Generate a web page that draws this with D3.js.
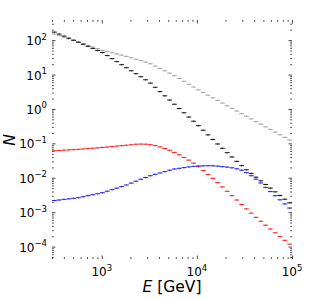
<!DOCTYPE html>
<html><head><meta charset="utf-8">
<script src="https://cdn.jsdelivr.net/npm/d3@7"></script>
<style>body{margin:0;background:#fff}svg{display:block}text{font-family:"DejaVu Sans",sans-serif}</style>
</head><body>
<svg id="c" width="317" height="300"></svg>
<script>
// bins: 50 log-spaced bins from 300 GeV to 1e5 GeV
const eMin = 300, eMax = 1e5, nBins = 50;
const seriesBlack = [171,150,131,114,99.5,86.9,75.9,66.1,57.5,50.1,43.5,35.6,29.0,23.7,19.3,15.8,12.9,10.6,8.65,7.05,5.64,4.26,3.19,2.41,1.81,1.37,1.03,0.774,0.582,0.440,0.327,0.241,0.177,0.130,0.0959,0.0719,0.0537,0.0403,0.0300,0.0225,0.0171,0.0134,0.0104,0.00818,0.00638,0.00500,0.00390,0.00305,0.00238,0.00187];
const seriesGray = [151,136,121,109,97.5,87.5,78.3,70.3,63.0,56.5,50.7,46.8,43.1,39.7,36.6,33.7,30.6,27.9,25.4,23.0,20.6,17.6,15.0,12.9,11.0,9.31,7.67,6.35,5.22,4.33,3.58,3.01,2.52,2.11,1.77,1.48,1.24,1.04,0.871,0.731,0.612,0.514,0.430,0.361,0.302,0.254,0.212,0.178,0.149,0.125];
const seriesRed = [0.0608,0.0621,0.0632,0.0646,0.0659,0.0671,0.0689,0.0705,0.0723,0.0741,0.0762,0.0783,0.0807,0.0832,0.0855,0.0881,0.0912,0.0944,0.0953,0.0945,0.0915,0.0860,0.0790,0.0710,0.0630,0.0545,0.0465,0.0390,0.0325,0.0265,0.0210,0.0162,0.0125,0.00960,0.00725,0.00545,0.00405,0.00302,0.00226,0.00167,0.00125,0.000935,0.000710,0.000545,0.000418,0.000325,0.000252,0.000196,0.000152,0.000118];
const seriesBlue = [0.00218,0.00226,0.00236,0.00244,0.00254,0.00264,0.00282,0.00302,0.00322,0.00344,0.00368,0.00407,0.00452,0.00500,0.00555,0.00617,0.00700,0.00794,0.00906,0.0102,0.0115,0.0126,0.0138,0.0151,0.0166,0.0180,0.0188,0.0197,0.0207,0.0215,0.0220,0.0222,0.0224,0.0223,0.0218,0.0211,0.0204,0.0195,0.0182,0.0166,0.0141,0.0115,0.00912,0.00708,0.00525,0.00398,0.00302,0.00229,0.00174,0.00132];
const xMajor = [1e3, 1e4, 1e5];
const xMajorExp = ["3", "4", "5"];
const yMajor = [1e-4, 1e-3, 1e-2, 1e-1, 1, 10, 100];
const yMajorExp = ["−4", "−3", "−2", "−1", "0", "1", "2"];
const yDomain = [Math.pow(10, -4.36), Math.pow(10, 2.585)];

const svg = d3.select("#c");
const L = 52, R = 292, T = 20, B = 259;
const x = d3.scaleLog().domain([eMin, eMax]).range([L, R]);
const y = d3.scaleLog().domain(yDomain).range([B, T]);

const lg = d3.range(nBins + 1).map(i => Math.log10(eMin) + i * (Math.log10(eMax) - Math.log10(eMin)) / nBins);
const edges = lg.map(v => Math.pow(10, v));

function minorTicks(lo, hi) {
  const out = [];
  for (let e = Math.floor(Math.log10(lo)); e <= Math.ceil(Math.log10(hi)); e++) {
    for (let k = 2; k <= 9; k++) { const v = k * Math.pow(10, e); if (v >= lo * 0.999 && v <= hi * 1.001) out.push(v); }
  }
  return out;
}
const xMinor = minorTicks(eMin, eMax);
const yMinor = minorTicks(yDomain[0], yDomain[1]);

const tickColor = "#333";
function addAxis(gen, transform, vals, size) {
  const g = svg.append("g").attr("transform", transform)
    .call(gen.tickValues(vals).tickSize(size).tickFormat(""));
  g.select(".domain").remove();
  g.selectAll("line").attr("stroke", tickColor).attr("stroke-width", 0.9);
  g.selectAll("text").remove();
}
addAxis(d3.axisBottom(x), `translate(0,${B})`, xMajor, -3.5);
addAxis(d3.axisBottom(x), `translate(0,${B})`, xMinor, -1.8);
addAxis(d3.axisTop(x), `translate(0,${T})`, xMajor, -3.5);
addAxis(d3.axisTop(x), `translate(0,${T})`, xMinor, -1.8);
addAxis(d3.axisLeft(y), `translate(${L},0)`, yMajor, -3.5);
addAxis(d3.axisLeft(y), `translate(${L},0)`, yMinor, -1.8);
addAxis(d3.axisRight(y), `translate(${R},0)`, yMajor, -3.5);
addAxis(d3.axisRight(y), `translate(${R},0)`, yMinor, -1.8);

// tick labels
xMajor.forEach((v, i) => {
  const t = svg.append("text").attr("x", x(v)).attr("y", 276).attr("text-anchor", "middle")
    .attr("font-size", 12).attr("fill", "#000");
  t.append("tspan").text("10");
  t.append("tspan").attr("dy", -5.5).attr("font-size", 8.5).text(xMajorExp[i]);
});
yMajor.forEach((v, i) => {
  const t = svg.append("text").attr("x", 47).attr("y", y(v) + 5).attr("text-anchor", "end")
    .attr("font-size", 12).attr("fill", "#000");
  t.append("tspan").text("10");
  t.append("tspan").attr("dy", -5.5).attr("font-size", 8.5).text(yMajorExp[i]);
});

// axis titles
const xt = svg.append("text").attr("x", 172).attr("y", 292).attr("text-anchor", "middle").attr("font-size", 15.5);
xt.append("tspan").attr("font-style", "italic").text("E");
xt.append("tspan").text(" [GeV]");
svg.append("text").attr("transform", "translate(15,140) rotate(-90)").attr("text-anchor", "middle")
  .attr("font-size", 15.5).attr("font-style", "italic").text("N");

// histograms as errorbar steps
function drawSeries(vals, color) {
  const g = svg.append("g");
  vals.forEach((v, i) => {
    const x0 = x(edges[i]), x1 = x(edges[i + 1]);
    const xc = x(Math.sqrt(edges[i] * edges[i + 1]));
    g.append("line").attr("x1", x0).attr("x2", x1).attr("y1", y(v)).attr("y2", y(v))
      .attr("stroke", color).attr("stroke-width", 1);
    g.append("line").attr("x1", xc).attr("x2", xc).attr("y1", y(v * 1.06)).attr("y2", y(v / 1.06))
      .attr("stroke", color).attr("stroke-width", 0.7);
  });
}
drawSeries(seriesGray, "#a8a8a8");
drawSeries(seriesBlack, "#1a1a1a");
drawSeries(seriesRed, "#ff2020");
drawSeries(seriesBlue, "#2020ff");
</script>
</body></html>
